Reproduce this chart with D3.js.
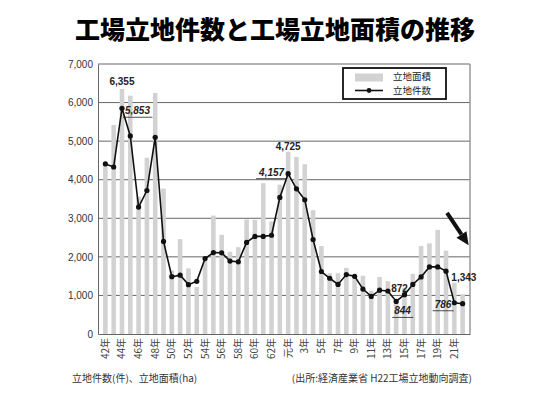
<html>
	<head>
		<title>工場立地件数と工場立地面積の推移</title>
		<meta charset="utf-8">
		<script src="https://cdn.jsdelivr.net/npm/d3@7/dist/d3.min.js"></script>
		<style>
			body { margin: 0; background: #fff; }
			text { font-family: "Liberation Sans", Arial, sans-serif; }
			.jp { font-family: "Noto Sans CJK JP", sans-serif; }
		</style>
	</head>
	<body>
		<script>

			// data (昭和42年 .. 平成22年)
			var YEARS = ["42年","43年","44年","45年","46年","47年","48年","49年","50年","51年",
				"52年","53年","54年","55年","56年","57年","58年","59年","60年","61年",
				"62年","63年","元年","2年","3年","4年","5年","6年","7年","8年",
				"9年","10年","11年","12年","13年","14年","15年","16年","17年","18年",
				"19年","20年","21年","22年"];
			var AREA = [4340, 5420, 6355, 6180, 3560, 4570, 6250, 3770, 1650, 2460,
				1700, 1220, 1900, 3070, 2570, 2130, 2250, 2970, 2960, 3910,
				2920, 3870, 4725, 4590, 4400, 3210, 2280, 1575, 1575, 1715,
				1515, 1510, 1125, 1480, 1370, 872, 1200, 1560, 2280, 2350,
				2700, 2160, 1330, 1030];
			var COUNT = [4410, 4330, 5853, 5135, 3290, 3720, 5100, 2400, 1485, 1525,
				1280, 1365, 1955, 2110, 2105, 1890, 1870, 2375, 2530, 2530,
				2560, 3540, 4157, 3765, 3480, 2450, 1620, 1445, 1285, 1540,
				1495, 1165, 975, 1135, 1115, 844, 1020, 1285, 1480, 1740,
				1740, 1630, 810, 786];
			var Y_TICKS = [0, 1000, 2000, 3000, 4000, 5000, 6000, 7000];

			// view
			var W = 550, H = 413;
			var LEFT = 98, RIGHT = 470, TOP = 64, BOTTOM = 334;
			var BAR_COLOR = "#d2d2d2";
			var GRID_COLOR = "#666";

			var svg = d3.select("body").append("svg")
				.attr("width", W)
				.attr("height", H);

			var x = d3.scaleBand()
				.domain(d3.range(YEARS.length))
				.range([LEFT, RIGHT])
				.paddingInner(0.45)
				.paddingOuter(0.61);
			var y = d3.scaleLinear()
				.domain([0, 7000])
				.range([BOTTOM, TOP]);
			function cx(i) { return x(i) + x.bandwidth() / 2; }

			// title
			svg.append("text")
				.attr("class", "jp")
				.attr("x", 275)
				.attr("y", 39)
				.attr("text-anchor", "middle")
				.attr("font-size", 25)
				.attr("font-weight", 900)
				.attr("fill", "#000")
				.text("工場立地件数と工場立地面積の推移");

			// grid
			svg.append("g").selectAll("line")
				.data(Y_TICKS.slice(1))
				.enter()
				.append("line")
				.attr("x1", LEFT).attr("x2", RIGHT)
				.attr("y1", function(d) { return y(d); })
				.attr("y2", function(d) { return y(d); })
				.attr("stroke", GRID_COLOR)
				.attr("stroke-width", 1);

			// bars
			svg.append("g").selectAll("rect")
				.data(AREA)
				.enter()
				.append("rect")
				.attr("x", function(d, i) { return x(i); })
				.attr("y", function(d) { return y(d); })
				.attr("width", x.bandwidth())
				.attr("height", function(d) { return y(0) - y(d); })
				.attr("fill", BAR_COLOR);

			// axes
			var yAxis = d3.axisLeft(y)
				.tickValues(Y_TICKS)
				.tickSize(0)
				.tickPadding(5)
				.tickFormat(d3.format(","));
			var gy = svg.append("g")
				.attr("transform", "translate(" + LEFT + ",0)")
				.call(yAxis);
			gy.select(".domain").attr("stroke", GRID_COLOR);
			gy.selectAll("text").attr("font-size", 10).attr("fill", "#333")
				.attr("font-family", "'Liberation Sans', Arial, sans-serif");

			svg.append("line")
				.attr("x1", RIGHT).attr("x2", RIGHT)
				.attr("y1", TOP).attr("y2", BOTTOM)
				.attr("stroke", "#999").attr("stroke-width", 1.5);

			var xAxis = d3.axisBottom(x)
				.tickValues(d3.range(0, YEARS.length, 2))
				.tickSize(0)
				.tickFormat(function(i) { return YEARS[i]; });
			var gx = svg.append("g")
				.attr("transform", "translate(0," + BOTTOM + ")")
				.call(xAxis);
			gx.select(".domain").attr("stroke", GRID_COLOR);
			gx.selectAll("text")
				.attr("class", "jp")
				.attr("font-size", 10)
				.attr("fill", "#444")
				.attr("text-anchor", "end")
				.attr("dy", "0.35em")
				.attr("transform", "translate(0,4) rotate(-90)")
				.attr("x", 0)
				.attr("y", 0);

			// line of counts
			var line = d3.line()
				.x(function(d, i) { return cx(i); })
				.y(function(d) { return y(d); });
			svg.append("path")
				.datum(COUNT)
				.attr("d", line)
				.attr("fill", "none")
				.attr("stroke", "#111")
				.attr("stroke-width", 1.6);
			svg.append("g").selectAll("circle")
				.data(COUNT)
				.enter()
				.append("circle")
				.attr("cx", function(d, i) { return cx(i); })
				.attr("cy", function(d) { return y(d); })
				.attr("r", 2.6)
				.attr("fill", "#111");

			// value labels: [index, value, text, dx, dy, anchor, underline]
			var LABELS = [
				[2, AREA[2], "6,355", 0, -4, "middle", false],
				[2, COUNT[2], "5,853", 3, 6, "start", true],
				[22, AREA[22], "4,725", 0, -2, "middle", false],
				[22, COUNT[22], "4,157", -4, 2, "end", true],
				[35, COUNT[35], "872", -5, -9, "start", false],
				[35, COUNT[35], "844", -2, 13, "start", true],
				[42, COUNT[42], "1,343", -3, -22, "start", false],
				[42, COUNT[42], "786", -3, 5, "end", true]
			];
			LABELS.forEach(function(l) {
				var t = svg.append("text")
					.attr("x", cx(l[0]) + l[3])
					.attr("y", y(l[1]) + l[4])
					.attr("text-anchor", l[5])
					.attr("font-size", 10)
					.attr("font-weight", "bold")
					.attr("font-style", l[6] ? "italic" : "normal")
					.attr("fill", "#222")
					.text(l[2]);
				if(l[6]) {
					var b = t.node().getBBox();
					svg.append("line")
						.attr("x1", b.x - 2).attr("x2", b.x + b.width + 2)
						.attr("y1", b.y + b.height + 1).attr("y2", b.y + b.height + 1)
						.attr("stroke", "#222").attr("stroke-width", 0.8);
				}
			});

			// arrow to the last year
			var a0 = [cx(41) + 1, y(3140)], a1 = [cx(43) + 6, y(2300)];
			var ang = Math.atan2(a1[1] - a0[1], a1[0] - a0[0]);
			var hl = 13, hw = 6;
			var base = [a1[0] - hl * Math.cos(ang), a1[1] - hl * Math.sin(ang)];
			svg.append("line")
				.attr("x1", a0[0]).attr("y1", a0[1])
				.attr("x2", base[0]).attr("y2", base[1])
				.attr("stroke", "#111").attr("stroke-width", 4);
			svg.append("polygon")
				.attr("points", [
					a1,
					[base[0] + hw * Math.sin(ang), base[1] - hw * Math.cos(ang)],
					[base[0] - hw * Math.sin(ang), base[1] + hw * Math.cos(ang)]
				].map(function(p) { return p.join(","); }).join(" "))
				.attr("fill", "#111");

			// legend
			var lg = svg.append("g").attr("transform", "translate(343,68)");
			lg.append("rect")
				.attr("width", 103).attr("height", 31)
				.attr("fill", "#fff").attr("stroke", "#111").attr("stroke-width", 1.8);
			lg.append("rect")
				.attr("x", 12).attr("y", 5.5).attr("width", 28).attr("height", 8)
				.attr("fill", BAR_COLOR);
			lg.append("line")
				.attr("x1", 12).attr("x2", 40).attr("y1", 22.5).attr("y2", 22.5)
				.attr("stroke", "#111").attr("stroke-width", 1.6);
			lg.append("circle")
				.attr("cx", 26).attr("cy", 22.5).attr("r", 2.4).attr("fill", "#111");
			lg.selectAll("text.lg")
				.data(["立地面積", "立地件数"])
				.enter()
				.append("text")
				.attr("class", "jp")
				.attr("x", 50)
				.attr("y", function(d, i) { return 9 + i * 14; })
				.attr("dy", "0.35em")
				.attr("font-size", 9.5)
				.attr("fill", "#222")
				.text(function(d) { return d; });

			// notes
			svg.append("text")
				.attr("class", "jp")
				.attr("x", 72).attr("y", 382)
				.attr("font-size", 10)
				.attr("fill", "#333")
				.text("立地件数(件)、立地面積(ha)");
			svg.append("text")
				.attr("class", "jp")
				.attr("x", 472).attr("y", 382)
				.attr("text-anchor", "end")
				.attr("font-size", 10)
				.attr("fill", "#333")
				.text("(出所:経済産業省 H22工場立地動向調査)");

		</script>
	</body>
</html>
